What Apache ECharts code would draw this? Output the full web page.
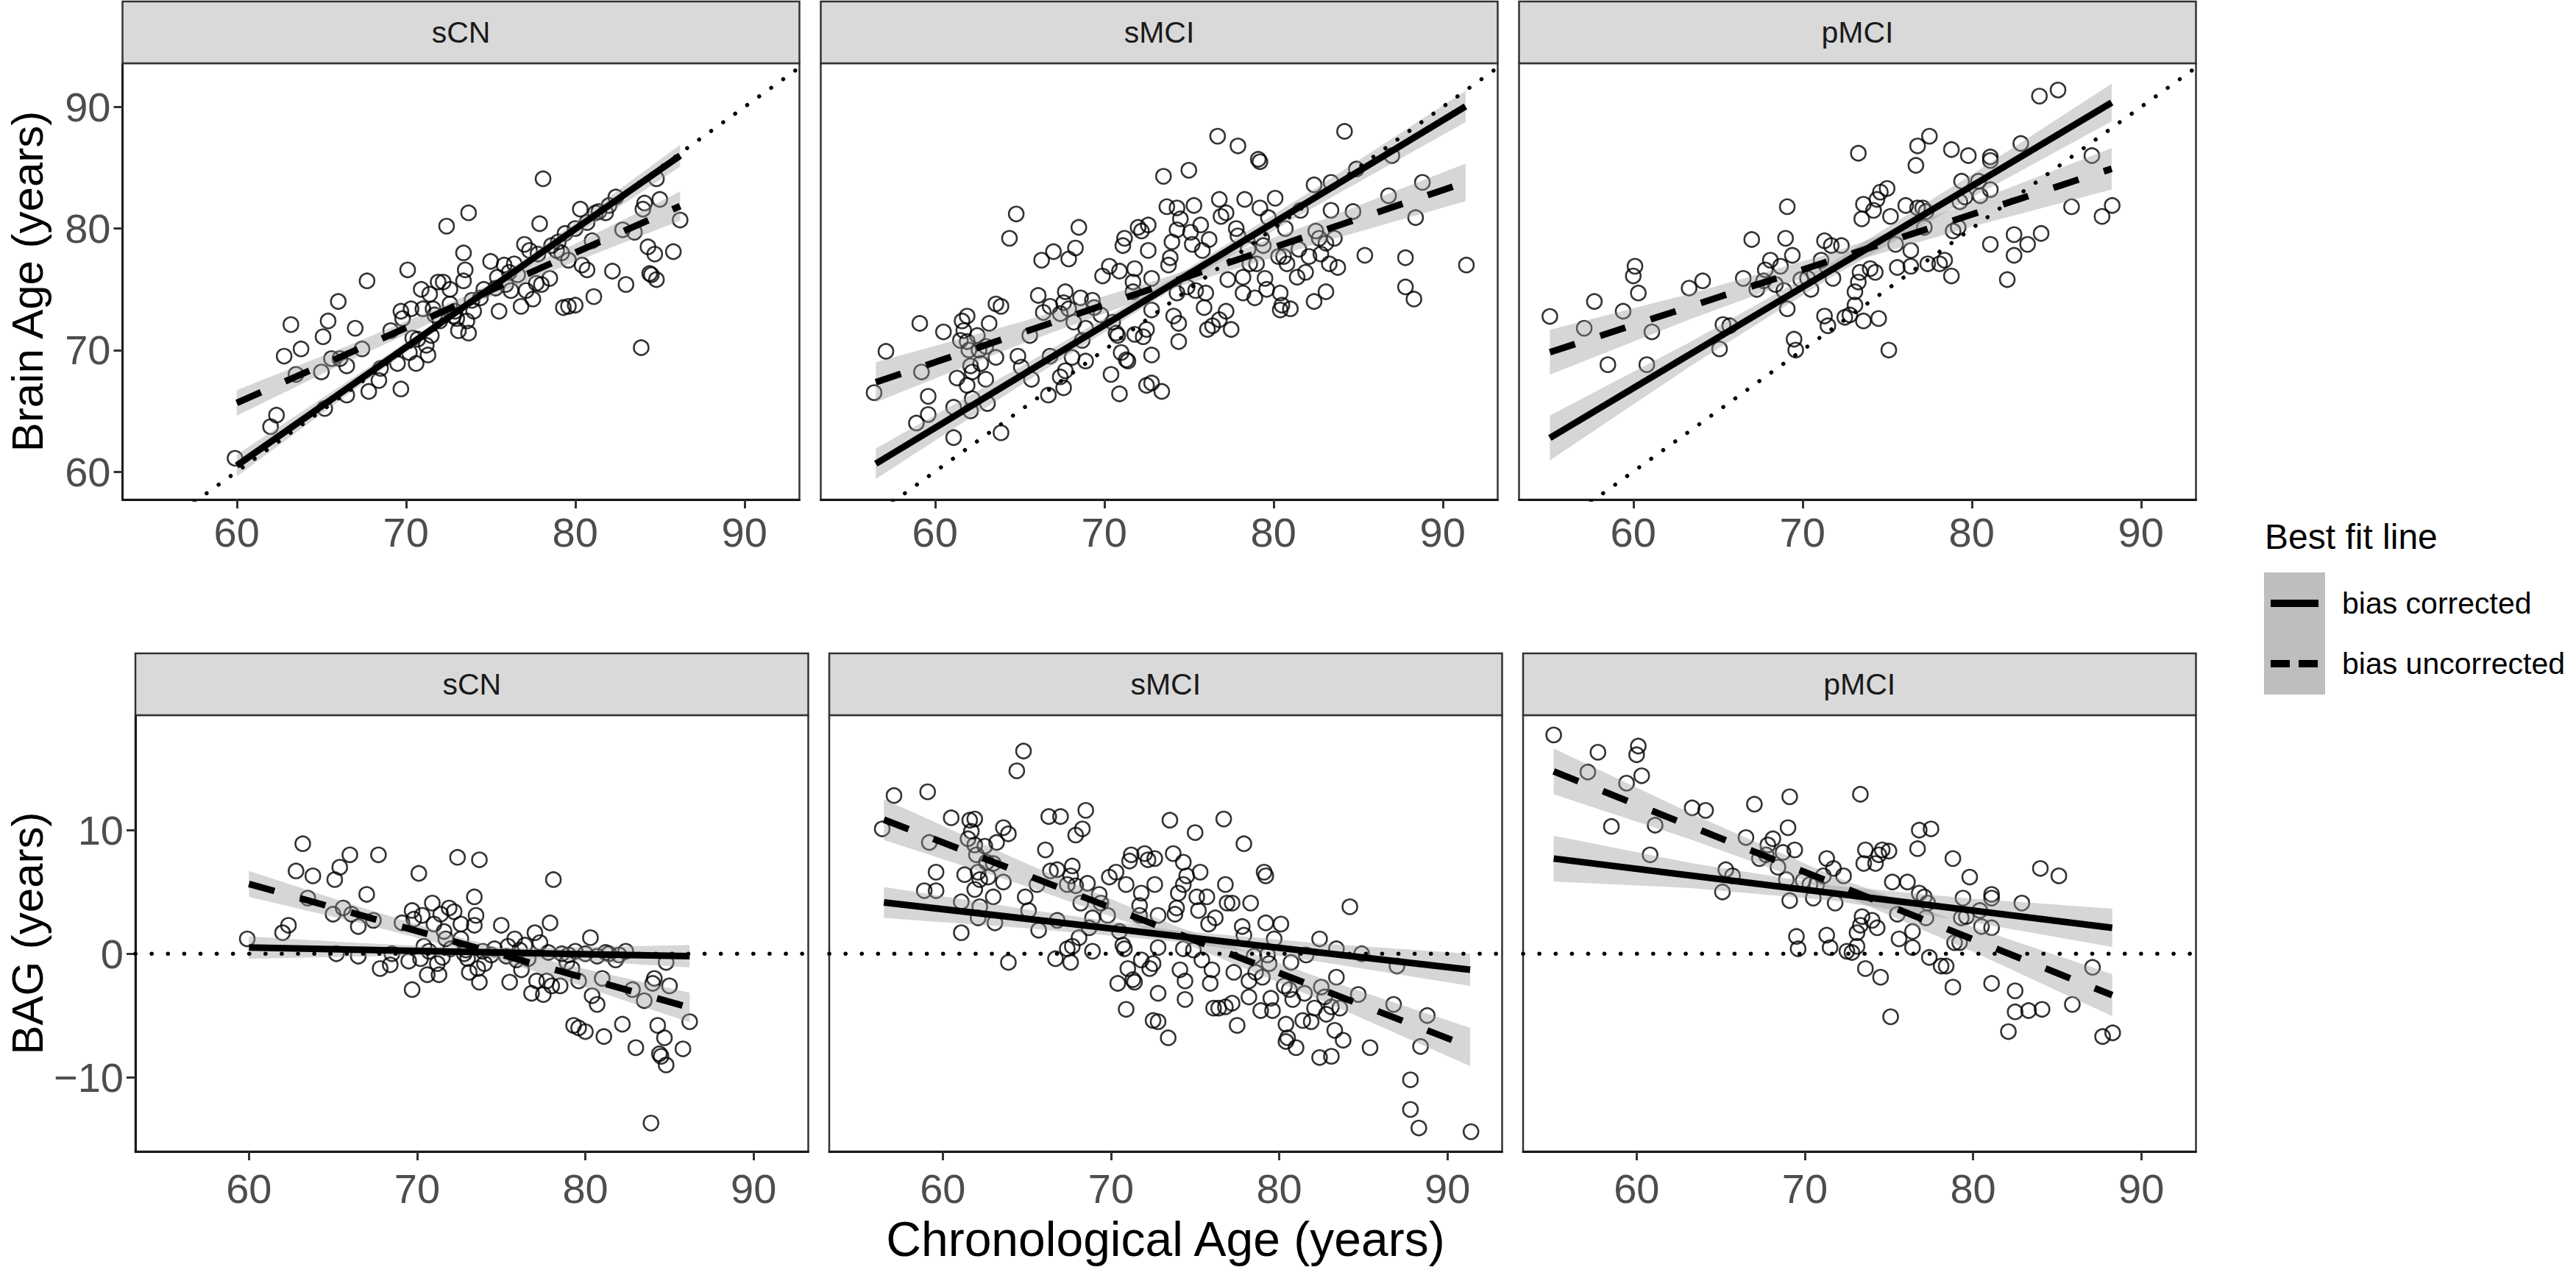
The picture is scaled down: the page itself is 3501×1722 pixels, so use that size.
<!DOCTYPE html>
<html>
<head>
<meta charset="utf-8">
<title>Brain age vs chronological age</title>
<script src="https://cdn.jsdelivr.net/npm/echarts@6/dist/echarts.min.js"></script>
<style>
  html, body { margin: 0; padding: 0; background: #fff; }
  #main { width: 3501px; height: 1722px; }
</style>
</head>
<body>
<div id="main"></div>
<script>
// groups shown in the facets
const groups = ['sCN', 'sMCI', 'pMCI'];

// sCN: chronological age and brain age gap (BAG = brain age - age)
const ageCN = [59.9,62.0,62.35,62.8,63.2,63.8,63.5,65.1,65.4,66.0,65.0,65.2,65.6,66.1,66.5,66.5,67.0,67.4,67.7,67.8,
  68.4,68.5,69.1,69.5,69.7,69.7,70.1,69.8,70.3,70.4,70.6,70.9,71.0,71.2,71.3,71.4,71.6,71.7,71.9,72.2,
  72.4,72.6,72.6,72.8,73.0,73.1,73.4,73.5,73.4,73.7,73.6,73.7,74.4,75.0,75.5,75.8,75.9,76.2,76.4,76.8,
  77.0,77.3,77.1,77.5,77.7,77.9,78.1,78.0,78.5,78.6,79.0,79.2,79.6,79.3,79.6,80.0,80.0,80.3,80.4,80.7,
  81.0,81.1,81.4,81.8,82.2,82.4,82.8,83.0,83.5,83.9,84.0,84.1,84.3,84.4,84.5,84.7,84.8,84.8,85.0,85.8,
  86.2,70.7,71.5,72.0,72.9,73.9,74.6,75.3,76.1,76.6,77.8,79.4,80.7,81.2,82.0,70.2,74.0,75.4,78.9];
const bagCN = [1.2,1.7,2.3,6.7,8.9,6.3,4.5,6.0,7.0,8.0,3.2,0.0,3.7,3.2,2.2,-0.2,4.8,2.7,8.0,-1.2,
  -0.9,0.0,2.5,-0.6,3.5,-2.9,6.5,2.8,3.1,0.6,-1.7,4.1,2.4,-0.8,-1.7,3.2,1.8,1.2,3.7,3.4,
  7.8,2.4,1.2,0.0,-0.4,-1.5,4.6,3.1,2.3,7.6,-1.2,-2.3,-0.1,2.3,-2.3,1.2,-0.5,-1.3,0.7,-3.2,
  1.7,0.9,-2.2,-3.3,-2.2,2.5,6.0,-2.6,-2.6,0.0,-0.1,-1.2,-2.2,-5.8,-6.0,-6.3,0.0,1.3,-3.4,-4.1,
  -2.0,-6.7,0.0,-0.5,-5.7,0.2,-2.9,-7.6,-3.8,-13.7,-2.4,-2.0,-5.8,-8.1,-8.3,-6.8,-9.0,-0.7,-2.6,-7.7,
  -5.5,0.2,-0.3,0.4,0.3,0.2,0.4,-0.2,0.3,-0.4,0.1,0.2,-0.2,0.1,-0.1,-0.4,-0.8,0.6,-0.7];

// sMCI
const ageSMCI = [56.4,57.1,59.1,59.2,58.9,59.6,59.6,60.5,61.1,61.1,61.3,61.6,61.9,61.5,61.7,61.9,62.0,61.9,62.1,62.2,
  62.2,62.1,62.5,62.6,62.7,63.0,63.0,63.1,63.2,63.6,63.9,63.6,63.9,64.4,64.8,64.9,65.1,65.6,65.7,66.1,
  66.3,67.0,66.4,66.8,66.7,66.8,67.4,67.6,67.7,67.6,67.4,67.7,67.9,67.9,68.3,68.5,68.2,68.1,68.6,68.7,
  68.9,68.9,69.3,69.4,69.8,69.9,70.3,70.5,70.7,70.8,70.4,70.9,70.9,71.0,71.1,71.2,71.3,71.4,71.7,71.8,
  71.7,71.8,72.0,72.2,72.3,72.5,72.6,72.6,72.8,72.8,72.8,72.5,72.8,73.4,73.5,73.7,73.8,73.9,74.0,74.1,
  74.3,74.3,74.3,74.4,74.4,74.5,74.9,75.0,75.1,75.3,75.2,75.4,75.7,75.8,75.9,76.0,76.2,76.1,76.4,76.7,
  76.8,76.8,76.9,77.2,77.2,77.3,77.5,77.9,77.8,77.9,78.2,78.2,78.3,78.5,78.6,78.9,79.0,79.1,79.2,79.2,
  79.3,79.4,79.5,79.6,79.7,80.1,80.3,80.4,80.5,80.4,80.6,80.7,80.8,81.0,81.4,81.5,81.6,81.9,82.1,82.4,
  82.4,82.5,82.7,82.8,83.1,83.1,83.3,83.4,83.4,83.6,83.8,84.2,84.7,84.9,85.4,86.8,87.0,87.8,87.8,88.3,
  88.4,88.8,91.4];
const bagSMCI = [10.1,12.8,13.1,9.0,5.1,5.1,6.6,11.0,4.2,1.7,6.4,10.8,10.9,9.3,9.9,8.8,8.0,5.2,6.6,6.0,
  3.8,2.9,8.7,7.4,6.2,7.3,4.6,2.5,9.0,10.2,9.7,5.8,-0.7,14.8,16.4,4.6,3.5,5.6,1.9,8.4,
  11.1,11.1,6.7,6.8,-0.4,2.7,5.6,6.3,7.1,-0.7,0.4,0.6,5.5,9.6,10.1,11.6,4.1,1.3,5.7,2.1,
  2.9,0.2,4.8,4.1,3.1,6.2,6.6,1.8,0.7,0.4,-2.4,5.6,-4.5,-1.2,7.5,8.0,-2.1,-2.3,3.9,4.9,
  3.1,-0.5,8.1,7.6,-1.2,-0.8,5.6,7.7,3.1,0.5,-3.2,-5.4,-5.5,-6.8,10.8,8.1,3.2,3.7,4.9,-1.3,
  7.4,5.6,0.4,-2.2,-3.7,6.3,0.3,9.8,4.6,6.6,3.5,-0.5,4.6,2.4,-2.4,-1.3,2.9,-4.4,-4.4,10.9,
  -4.3,5.6,4.1,4.1,-4.0,-1.5,-5.8,8.9,2.2,1.5,-2.2,-3.5,4.1,-0.2,-1.5,-4.6,-1.9,6.6,6.3,2.5,
  -0.1,-0.8,-3.6,-4.6,1.2,2.4,-2.6,-5.7,-6.8,-7.1,-2.9,-0.7,-3.7,-7.6,-5.4,-3.2,-0.1,-5.5,-4.4,-8.4,
  1.2,-2.7,-3.5,-4.9,-4.3,-8.3,-6.2,-1.9,0.4,-4.4,-7.0,3.8,-3.3,0.0,-7.6,-4.1,-1.0,-10.2,-12.6,-14.1,
  -7.5,-5.0,-14.4];

// pMCI
const agePMCI = [55.07,57.7,57.1,59.4,60.1,60.0,60.3,58.5,61.1,60.8,63.3,64.1,67.0,69.1,66.5,65.3,65.7,65.1,67.3,67.7,
  68.1,67.8,68.7,69.0,69.4,68.4,68.9,69.1,69.9,70.3,70.5,70.7,71.1,71.3,71.7,71.8,72.3,69.5,69.6,71.3,
  71.5,72.5,72.8,73.1,73.1,73.3,73.5,73.6,73.6,73.4,73.3,74.0,74.3,74.2,74.4,74.6,75.0,74.5,75.1,75.2,
  75.5,75.6,76.1,76.4,76.4,76.7,76.8,76.8,77.1,77.2,77.3,77.5,77.4,78.1,78.4,78.8,78.8,78.9,79.2,79.3,
  79.4,79.6,79.8,80.4,80.5,81.1,81.1,81.1,81.1,82.1,82.5,82.5,82.9,83.3,84.0,84.1,85.1,85.9,87.1,87.7,
  88.3];
const bagPMCI = [17.7,16.3,14.7,13.8,16.8,16.1,14.4,10.3,10.4,8.0,11.8,11.6,12.1,12.7,9.4,6.8,6.3,5.0,7.7,8.0,
  9.3,8.8,8.2,10.2,8.4,7.0,6.0,4.3,5.9,5.6,4.5,5.6,6.3,7.7,6.9,4.1,6.3,1.4,0.4,1.5,
  0.5,0.2,0.1,0.6,1.7,12.9,7.3,8.4,-1.2,3.0,2.3,2.7,2.1,7.3,8.0,8.4,8.3,-1.9,-5.1,5.8,
  3.2,1.2,5.8,1.8,0.5,8.5,10.0,4.9,4.6,2.9,4.1,10.1,-0.3,-1.0,-1.0,7.7,-2.7,0.9,0.9,2.9,
  4.5,3.0,6.2,3.5,2.2,4.8,4.5,2.1,-2.4,-6.3,-3.0,-4.7,4.1,-4.6,6.9,-4.5,6.3,-4.1,-1.1,-6.7,
  -6.4];

// fitted lines in BAG units: [x start, y start, x end, y end]
const fitCorrected   = [[60, 0.5, 86.2, -0.2], [56.5, 4.15, 91.35, -1.3], [55.07, 7.7, 88.27, 2.1]];
const fitUncorrected = [[60, 5.65, 86.2, -4.35], [56.5, 10.85, 91.35, -7.55], [55.07, 14.75, 88.27, -3.35]];

// confidence bands in BAG units: [x, lower, upper]
const bandCorrected = [
  [[60, -0.4, 1.4], [66.5, -0.22, 0.88], [73, -0.15, 0.45], [79.5, -0.57, 0.53], [86.2, -1.1, 0.7]],
  [[56.5, 2.9, 5.4], [65.2, 2.04, 3.54], [73.9, 0.98, 1.88], [82.6, -0.68, 0.82], [91.35, -2.6, 0.0]],
  [[55.07, 5.85, 9.55], [63.37, 5.3, 7.3], [71.67, 4.3, 5.5], [79.97, 2.55, 4.45], [88.27, 0.55, 3.65]]
];
const bandUncorrected = [
  [[60, 4.6, 6.7], [66.5, 2.52, 3.82], [73, 0.24, 1.14], [79.5, -2.49, -1.09], [86.2, -5.55, -3.15]],
  [[56.5, 9.2, 12.5], [65.2, 5.36, 7.16], [73.9, 1.11, 2.21], [82.6, -3.83, -2.03], [91.35, -9.1, -6.0]],
  [[55.07, 12.9, 16.6], [63.37, 9.17, 11.27], [71.67, 5.1, 6.3], [79.97, 0.17, 2.17], [88.27, -5.05, -1.65]]
];

// tick labels
const xTicks = [60, 70, 80, 90];
const brainTicks = [60, 70, 80, 90];
const bagTicks = [-10, 0, 10];

const ages = [ageCN, ageSMCI, agePMCI];
const bags = [bagCN, bagSMCI, bagPMCI];

const FONT = '"Liberation Sans", Arial, Helvetica, sans-serif';
const X_MIN = 53.25, X_MAX = 93.25;

// layout of the two rows of facets (pixels)
const rows = [
  { top: 86, height: 593, stripTop: 2, lefts: [166.5, 1115.5, 2064.5], width: 920,
    yMin: 57.7, yMax: 93.6, ticks: brainTicks, lift: true, title: 'Brain Age (years)', titleX: 37, labelMargin: 16 },
  { top: 972, height: 593, stripTop: 888, lefts: [184, 1127, 2070], width: 914.5,
    yMin: -16.0, yMax: 19.3, ticks: bagTicks, lift: false, title: 'BAG (years)', titleX: 37, labelMargin: 22 }
];

// top row plots brain age, bottom row the gap
function val(x, bag, lift) { return lift ? x + bag : bag; }

const grid = [], xAxis = [], yAxis = [], series = [], graphic = [];
const fmt = v => (v < 0 ? '\u2212' + Math.abs(v) : String(v));

rows.forEach((row, r) => {
  row.lefts.forEach((left, j) => {
    const gi = grid.length;
    grid.push({ left: left, top: row.top, width: row.width, height: row.height,
      show: true, borderColor: '#333', borderWidth: 2.5, backgroundColor: '#fff' });
    xAxis.push({ type: 'value', gridIndex: gi, min: X_MIN, max: X_MAX,
      axisLine: { show: true, onZero: false, lineStyle: { color: '#1a1a1a', width: 3 } },
      axisTick: { show: true, length: 12, customValues: xTicks, lineStyle: { color: '#333', width: 3 } },
      axisLabel: { customValues: xTicks, fontSize: 56, fontFamily: FONT, color: '#4d4d4d', margin: row.labelMargin },
      splitLine: { show: false } });
    yAxis.push({ type: 'value', gridIndex: gi, min: row.yMin, max: row.yMax,
      axisLine: { show: j === 0, onZero: false, lineStyle: { color: '#1a1a1a', width: 3 } },
      axisTick: { show: j === 0, length: 12, customValues: row.ticks, lineStyle: { color: '#333', width: 3 } },
      axisLabel: { show: j === 0, customValues: row.ticks, fontSize: 56, fontFamily: FONT, color: '#4d4d4d',
        margin: 16, formatter: fmt },
      splitLine: { show: false } });

    const pts = ages[j].map((a, k) => [a, val(a, bags[j][k], row.lift)]);
    series.push({ type: 'scatter', xAxisIndex: gi, yAxisIndex: gi, data: pts, z: 2,
      symbol: 'circle', symbolSize: 20, silent: true,
      itemStyle: { color: 'rgba(0,0,0,0)', borderColor: '#000', borderWidth: 2.6 } });

    [bandCorrected[j], bandUncorrected[j]].forEach(band => {
      const rowsData = band.map(b => [b[0], val(b[0], b[1], row.lift), val(b[0], b[2], row.lift)]);
      series.push({ type: 'custom', xAxisIndex: gi, yAxisIndex: gi, z: 3, silent: true,
        data: rowsData, encode: { x: 0, y: [1, 2] },
        renderItem: (params, api) => {
          if (params.dataIndex !== 0) return null;
          const upper = rowsData.map(d => api.coord([d[0], d[2]]));
          const lower = rowsData.slice().reverse().map(d => api.coord([d[0], d[1]]));
          return { type: 'polygon', shape: { points: upper.concat(lower) },
            style: { fill: 'rgba(153,153,153,0.4)' } };
        } });
    });

    [[fitCorrected[j], 'solid'], [fitUncorrected[j], [36, 36]]].forEach(([f, dash]) => {
      series.push({ type: 'line', xAxisIndex: gi, yAxisIndex: gi, z: 4, silent: true,
        showSymbol: false, symbol: 'none',
        data: [[f[0], val(f[0], f[1], row.lift)], [f[2], val(f[2], f[3], row.lift)]],
        lineStyle: { color: '#000', width: 9, type: dash, cap: 'butt' } });
    });

    // reference: identity line on top, zero line below
    series.push({ type: 'line', xAxisIndex: gi, yAxisIndex: gi, z: 5, silent: true,
      showSymbol: false, symbol: 'none', clip: true,
      data: [[X_MIN, val(X_MIN, 0, row.lift)], [X_MAX, val(X_MAX, 0, row.lift)]],
      lineStyle: { color: '#000', width: 5.5, type: [0.1, row.lift ? 20 : 22], cap: 'round' } });

    // facet strip
    graphic.push({ type: 'rect', z: 10,
      shape: { x: left, y: row.stripTop, width: row.width, height: row.top - row.stripTop },
      style: { fill: '#d9d9d9', stroke: '#333', lineWidth: 2.5 } });
    graphic.push({ type: 'text', z: 11, x: left + row.width / 2, y: (row.stripTop + row.top) / 2,
      style: { text: groups[j], fontSize: 41, fontFamily: FONT, fill: '#1a1a1a',
        align: 'center', verticalAlign: 'middle' } });
  });

  graphic.push({ type: 'text', z: 11, x: row.titleX, y: row.top + row.height / 2, rotation: Math.PI / 2,
    style: { text: row.title, fontSize: 60, fontFamily: FONT, fill: '#000',
      align: 'center', verticalAlign: 'middle' } });
});

// shared x title
graphic.push({ type: 'text', z: 11, x: 1584, y: 1684,
  style: { text: 'Chronological Age (years)', fontSize: 66, fontFamily: FONT, fill: '#000',
    align: 'center', verticalAlign: 'middle' } });

// legend
graphic.push({ type: 'text', z: 11, x: 3078, y: 729,
  style: { text: 'Best fit line', fontSize: 48, fontFamily: FONT, fill: '#000',
    align: 'left', verticalAlign: 'middle' } });
graphic.push({ type: 'rect', z: 10, shape: { x: 3077, y: 778, width: 83, height: 166 },
  style: { fill: '#bebebe' } });
graphic.push({ type: 'line', z: 11, shape: { x1: 3086, y1: 820, x2: 3151, y2: 820 },
  style: { stroke: '#000', lineWidth: 10 } });
graphic.push({ type: 'line', z: 11, shape: { x1: 3086, y1: 902, x2: 3151, y2: 902 },
  style: { stroke: '#000', lineWidth: 10, lineDash: [26, 12] } });
graphic.push({ type: 'text', z: 11, x: 3183, y: 820,
  style: { text: 'bias corrected', fontSize: 41, fontFamily: FONT, fill: '#000',
    align: 'left', verticalAlign: 'middle' } });
graphic.push({ type: 'text', z: 11, x: 3183, y: 902,
  style: { text: 'bias uncorrected', fontSize: 41, fontFamily: FONT, fill: '#000',
    align: 'left', verticalAlign: 'middle' } });

const chart = echarts.init(document.getElementById('main'), null, { renderer: 'svg' });
chart.setOption({
  backgroundColor: '#fff',
  animation: false,
  grid, xAxis, yAxis, series, graphic
});
</script>
</body>
</html>
